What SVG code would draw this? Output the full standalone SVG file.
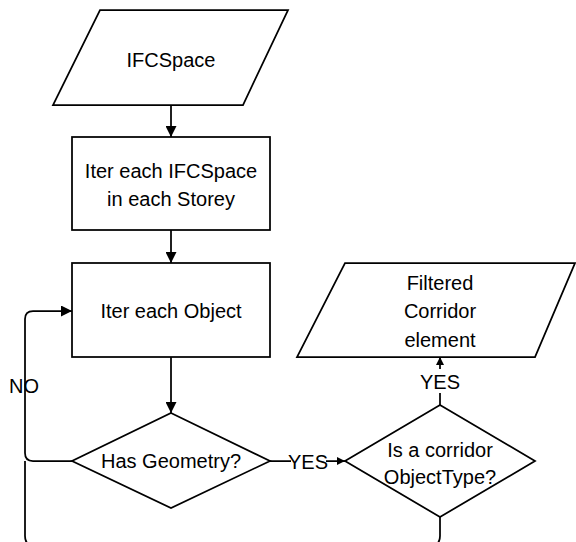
<svg xmlns="http://www.w3.org/2000/svg" width="576" height="542" viewBox="0 0 576 542">
<defs>
<style>
.s{fill:#fff;stroke:#000;stroke-width:1.75}
.c{fill:none;stroke:#000;stroke-width:1.75}
text{font-family:"Liberation Sans",Arial,sans-serif;font-size:20px;fill:#000;text-anchor:middle}
</style>
<marker id="arr" viewBox="0 0 10 10" refX="10" refY="5" markerWidth="11" markerHeight="11" orient="auto" markerUnits="userSpaceOnUse"><path d="M0,0 L10,5 L0,10 z" fill="#000"/></marker>
<marker id="arrs" viewBox="0 0 10 10" refX="10" refY="5" markerWidth="8" markerHeight="8" orient="auto" markerUnits="userSpaceOnUse"><path d="M0,0 L10,5 L0,10 z" fill="#000"/></marker>
</defs>
<rect width="576" height="542" fill="#fff"/>
<g id="connectors">
<path class="c" d="M171,105 V137" marker-end="url(#arr)"/>
<path class="c" d="M171,230 V263" marker-end="url(#arr)"/>
<path class="c" d="M171,357 V413" marker-end="url(#arr)"/>
<path class="c" d="M72,461 H33 Q25,461 25,453 V319 Q25,311 33,311 H72" marker-end="url(#arr)"/>
<path class="c" d="M440,517 V536 Q440,546 430,546 H35 Q25,546 25,536 V461"/>
<path class="c" d="M270,461 H345" marker-end="url(#arrs)"/>
<path class="c" d="M440,405 V357" marker-end="url(#arrs)"/>
<rect x="291" y="452" width="35" height="20" fill="#fff"/>
<text x="308" y="469">YES</text>
<rect x="420" y="369" width="40" height="24" fill="#fff"/>
<text x="440" y="389">YES</text>
<text x="24" y="393">NO</text>
</g>
<g id="ifcspace">
<polygon class="s" points="100,10 288,10 243,105 53,105"/>
<text x="171" y="67">IFCSpace</text>
</g>
<g id="iter-space">
<rect class="s" x="72" y="137" width="198" height="93"/>
<text x="171" y="178">Iter each IFCSpace</text>
<text x="171" y="206">in each Storey</text>
</g>
<g id="iter-object">
<rect class="s" x="72" y="263" width="198" height="94"/>
<text x="171" y="318">Iter each Object</text>
</g>
<g id="has-geometry">
<polygon class="s" points="171,413 270,461 171,508 72,461"/>
<text x="171" y="468">Has Geometry?</text>
</g>
<g id="is-corridor">
<polygon class="s" points="440,405 535,461 440,517 345,461"/>
<text x="440" y="457">Is a corridor</text>
<text x="440" y="484">ObjectType?</text>
</g>
<g id="filtered">
<polygon class="s" points="345,263 575,263 535,357 297,357"/>
<text x="440" y="290">Filtered</text>
<text x="440" y="318">Corridor</text>
<text x="440" y="347">element</text>
</g>
</svg>
